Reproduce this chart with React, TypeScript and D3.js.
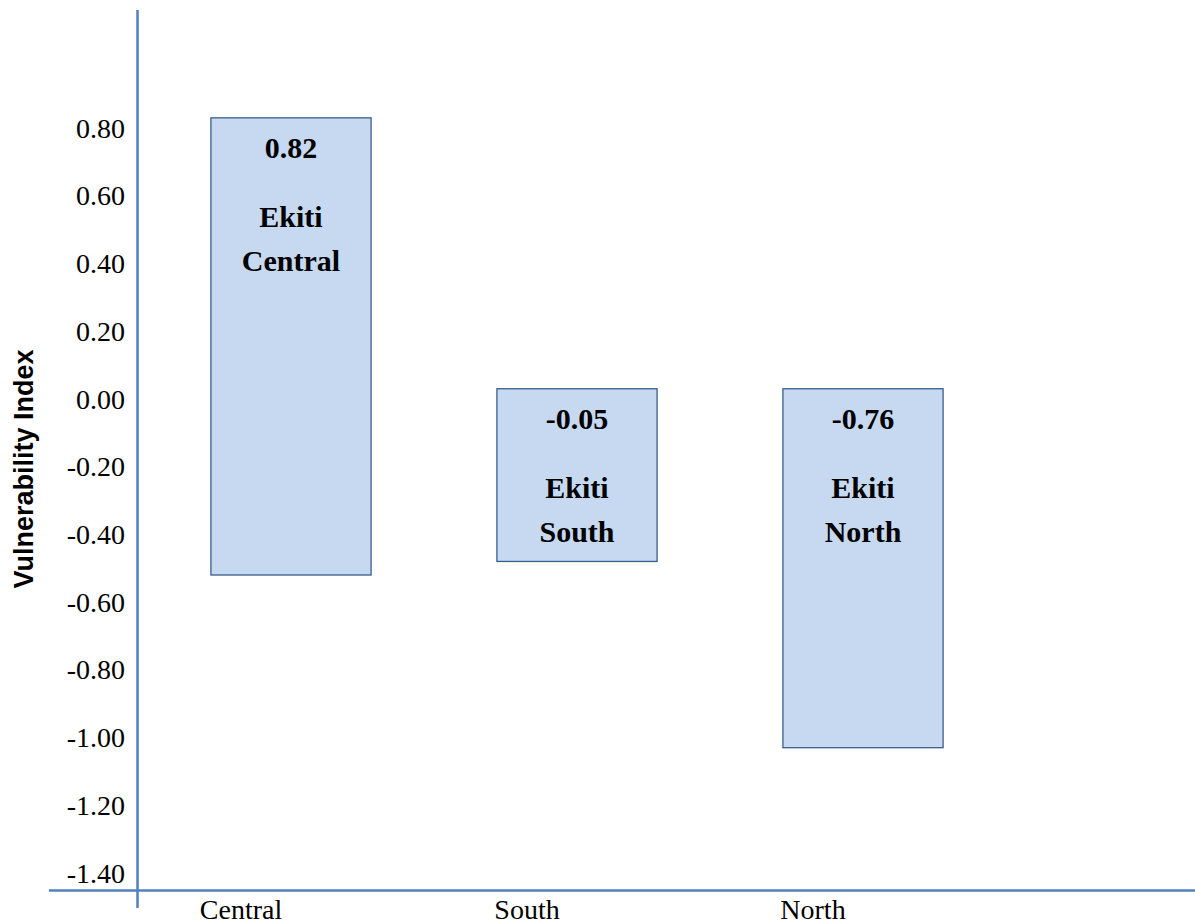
import { useEffect } from 'react'
import * as d3 from 'd3'

const CATEGORIES = ['Central', 'South', 'North']
const REGION_NAMES = [['Ekiti', 'Central'], ['Ekiti', 'South'], ['Ekiti', 'North']]
const INDEX_VALUES = [0.82, -0.05, -0.76]
const BAR_TOPS = [0.83, 0.03, 0.03]
const BAR_BOTTOMS = [-0.52, -0.48, -1.03]
const Y_TICKS = [0.8, 0.6, 0.4, 0.2, 0, -0.2, -0.4, -0.6, -0.8, -1.0, -1.2, -1.4]

const W = 1195
const H = 924
const AXIS_X = 137.5
const AXIS_Y = 890.5
const AXIS_COLOR = '#4f81bd'
const SERIF = "'Liberation Serif', 'Times New Roman', serif"
const SANS = "'Liberation Sans', Arial, sans-serif"

const fmt = (v: number) => d3.format('.2f')(v).replace('−', '-')

export default function App() {
  useEffect(() => {
    document.body.style.margin = '0'
  }, [])

  const y = d3.scaleLinear().domain([-1.4, 0.8]).range([873, 128])
  const x = d3.scaleBand<string>().domain(CATEGORIES).range([98, 98 + 286 * 3])
  const barW = x.bandwidth() * 0.56

  return (
    <svg width={W} height={H} style={{ display: 'block', background: '#fff' }}>
      {/* y axis title */}
      <text
        transform={`translate(33,469) rotate(-90)`}
        textAnchor="middle"
        fontFamily={SANS}
        fontWeight="bold"
        fontSize={27}
        fill="#000"
      >
        Vulnerability Index
      </text>

      {/* y tick labels */}
      {Y_TICKS.map((t) => (
        <text key={t} x={125} y={y(t) + 9.6} textAnchor="end" fontFamily={SERIF} fontSize={28} fill="#000">
          {fmt(t)}
        </text>
      ))}

      {/* bars */}
      {CATEGORIES.map((c, i) => {
        const cx = (x(c) ?? 0) + x.bandwidth() / 2 + 50
        const top = y(BAR_TOPS[i])
        const bot = y(BAR_BOTTOMS[i])
        return (
          <g key={c}>
            <rect
              x={cx - barW / 2}
              y={top}
              width={barW}
              height={bot - top}
              fill="#c6d9f1"
              stroke="#385d8a"
              strokeWidth={1.3}
            />
            <text x={cx} y={top + 40} textAnchor="middle" fontFamily={SERIF} fontWeight="bold" fontSize={30} fill="#000">
              {fmt(INDEX_VALUES[i])}
            </text>
            {REGION_NAMES[i].map((line, li) => (
              <text
                key={li}
                x={cx}
                y={top + 109 + li * 44}
                textAnchor="middle"
                fontFamily={SERIF}
                fontWeight="bold"
                fontSize={30}
                fill="#000"
              >
                {line}
              </text>
            ))}
          </g>
        )
      })}

      {/* axes */}
      <line x1={AXIS_X} x2={AXIS_X} y1={10} y2={908} stroke={AXIS_COLOR} strokeWidth={2.5} />
      <line x1={49} x2={W} y1={AXIS_Y} y2={AXIS_Y} stroke={AXIS_COLOR} strokeWidth={2.5} />

      {/* category labels */}
      {CATEGORIES.map((c) => (
        <text
          key={c}
          x={(x(c) ?? 0) + x.bandwidth() / 2}
          y={919}
          textAnchor="middle"
          fontFamily={SERIF}
          fontSize={28}
          fill="#000"
        >
          {c}
        </text>
      ))}
    </svg>
  )
}
